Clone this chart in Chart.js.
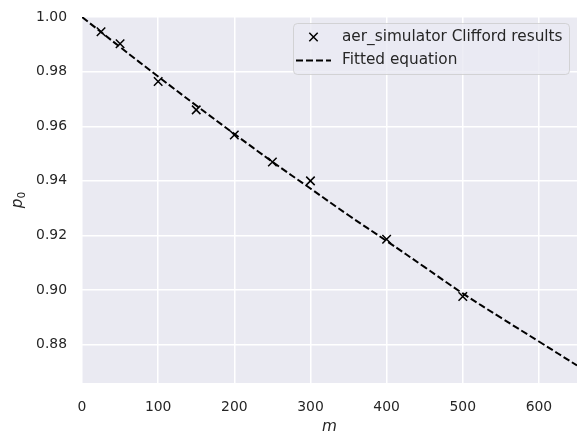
<!DOCTYPE html>
<html>
<head>
<meta charset="utf-8">
<script src="https://cdn.jsdelivr.net/npm/chart.js@4.4.0/dist/chart.umd.min.js"></script>
<style>
  html, body { margin: 0; padding: 0; background: #fff; }
  #wrap { width: 586px; height: 447px; }
</style>
</head>
<body>
<div id="wrap"><canvas id="c" width="586" height="447"></canvas></div>
<script>
// sequence lengths m and measured p0 from the simulator
const depths = [25, 50, 100, 150, 200, 250, 300, 400, 500];
const p0Measured = [0.9946, 0.9902, 0.9764, 0.9660, 0.9568, 0.9469, 0.9400, 0.9186, 0.8977];

// fitted curve
const fitDepths = [0, 50, 100, 150, 200, 250, 300, 350, 400, 450, 500, 550, 600, 650];
const p0Fitted = [1.0000, 0.9890, 0.9782, 0.9676, 0.9572, 0.9470, 0.9372, 0.9274, 0.9180, 0.9084, 0.8988, 0.8899, 0.8812, 0.8724];

const xTicks = [0, 100, 200, 300, 400, 500, 600];
const yTicks = [0.88, 0.90, 0.92, 0.94, 0.96, 0.98, 1.00];

const seriesLabels = ['aer_simulator Clifford results', 'Fitted equation'];

const FONT = 'DejaVu Sans';
const TEXT = '#262626';
const BG = '#EAEAF2';

// plot background + hand-drawn legend and axis labels (seaborn look)
const snsPlugin = {
  id: 'sns',
  beforeDraw(chart) {
    const { ctx, chartArea: a } = chart;
    ctx.save();
    ctx.fillStyle = '#fff';
    ctx.fillRect(0, 0, chart.width, chart.height);
    ctx.fillStyle = BG;
    ctx.fillRect(a.left, a.top, a.right - a.left, a.bottom - a.top);
    ctx.restore();
  },
  afterDraw(chart) {
    const { ctx, chartArea: a } = chart;
    ctx.save();

    // legend box
    const bx = 293.5, by = 23.5, bw = 276, bh = 51, r = 4;
    ctx.beginPath();
    ctx.moveTo(bx + r, by);
    ctx.arcTo(bx + bw, by, bx + bw, by + bh, r);
    ctx.arcTo(bx + bw, by + bh, bx, by + bh, r);
    ctx.arcTo(bx, by + bh, bx, by, r);
    ctx.arcTo(bx, by, bx + bw, by, r);
    ctx.closePath();
    ctx.fillStyle = 'rgba(234,234,242,0.8)';
    ctx.fill();
    ctx.strokeStyle = 'rgba(204,204,204,0.8)';
    ctx.lineWidth = 1;
    ctx.stroke();

    // marker entry
    const mx = 313.5, my = 37, s = 4.2;
    ctx.strokeStyle = '#000';
    ctx.lineWidth = 1.5;
    ctx.beginPath();
    ctx.moveTo(mx - s, my - s); ctx.lineTo(mx + s, my + s);
    ctx.moveTo(mx - s, my + s); ctx.lineTo(mx + s, my - s);
    ctx.stroke();

    // line entry
    ctx.setLineDash([7, 3]);
    ctx.lineWidth = 2;
    ctx.beginPath();
    ctx.moveTo(296, 60.5); ctx.lineTo(331, 60.5);
    ctx.stroke();
    ctx.setLineDash([]);

    ctx.fillStyle = TEXT;
    ctx.font = `15.3px "${FONT}"`;
    ctx.textBaseline = 'middle';
    ctx.textAlign = 'left';
    ctx.fillText(seriesLabels[0], 342, 37);
    ctx.fillText(seriesLabels[1], 342, 60.5);

    // x label
    ctx.font = `italic 15.3px "${FONT}"`;
    ctx.textAlign = 'center';
    ctx.fillText('m', (a.left + a.right) / 2, 427);

    // y label p_0
    ctx.translate(18, (a.top + a.bottom) / 2);
    ctx.rotate(-Math.PI / 2);
    ctx.textAlign = 'left';
    ctx.font = `italic 15.3px "${FONT}"`;
    const pw = ctx.measureText('p').width;
    ctx.font = `10.7px "${FONT}"`;
    const zw = ctx.measureText('0').width;
    const start = -(pw + zw) / 2;
    ctx.font = `italic 15.3px "${FONT}"`;
    ctx.fillText('p', start, 0);
    ctx.font = `10.7px "${FONT}"`;
    ctx.fillText('0', start + pw, 4);
    ctx.restore();
  }
};

new Chart(document.getElementById('c'), {
  type: 'scatter',
  data: {
    datasets: [
      {
        label: seriesLabels[0],
        data: depths.map((m, i) => ({ x: m, y: p0Measured[i] })),
        pointStyle: 'crossRot',
        pointRadius: 6,
        pointBorderWidth: 1.5,
        borderColor: '#000',
        backgroundColor: '#000',
        showLine: false,
        order: 1
      },
      {
        label: seriesLabels[1],
        data: fitDepths.map((m, i) => ({ x: m, y: p0Fitted[i] })),
        showLine: true,
        borderColor: '#000',
        borderWidth: 2,
        borderDash: [7, 3],
        pointRadius: 0,
        tension: 0.4,
        order: 2
      }
    ]
  },
  options: {
    responsive: false,
    animation: false,
    devicePixelRatio: 1,
    layout: { padding: { top: 17, right: 9, left: 0, bottom: 0 } },
    plugins: {
      legend: { display: false },
      tooltip: { enabled: false }
    },
    scales: {
      x: {
        type: 'linear',
        min: 0,
        max: 650,
        border: { display: false },
        grid: { color: '#fff', lineWidth: 1.5, drawTicks: false },
        afterBuildTicks: (s) => { s.ticks = xTicks.map(v => ({ value: v })); },
        afterFit: (s) => { s.height = 64; s.paddingLeft = 0; s.paddingRight = 0; },
        ticks: {
          color: TEXT,
          padding: 16,
          maxRotation: 0,
          font: { family: FONT, size: 13.9 },
          callback: (v) => String(v)
        }
      },
      y: {
        type: 'linear',
        min: 0.866,
        max: 1.0,
        border: { display: false },
        grid: { color: '#fff', lineWidth: 1.5, drawTicks: false },
        afterBuildTicks: (s) => { s.ticks = yTicks.map(v => ({ value: v })); },
        afterFit: (s) => { s.width = 82; s.paddingTop = 0; s.paddingBottom = 0; },
        ticks: {
          color: TEXT,
          padding: 15,
          font: { family: FONT, size: 13.9 },
          callback: (v) => Number(v).toFixed(2)
        }
      }
    }
  },
  plugins: [snsPlugin]
});
</script>
</body>
</html>
